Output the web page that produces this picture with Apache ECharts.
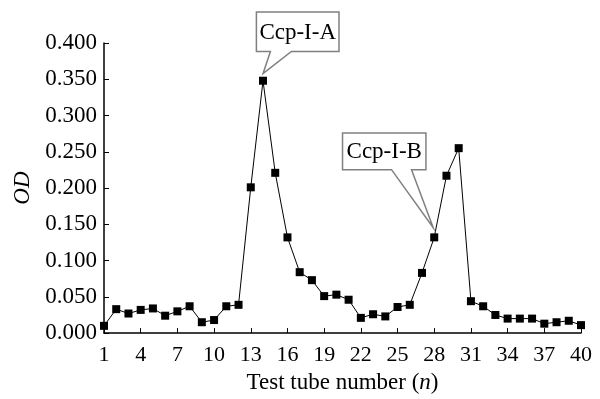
<!DOCTYPE html>
<html><head><meta charset="utf-8">
<script src="https://cdn.jsdelivr.net/npm/echarts@6/dist/echarts.min.js"></script>
<style>html,body{margin:0;padding:0;background:#fff}#c{width:600px;height:399px}</style>
</head><body><div id="c"></div>
<script>
const tubes = Array.from({length:40},(_,i)=>String(i+1));
const odValues = [0.010,0.033,0.027,0.032,0.034,0.024,0.030,0.037,0.015,0.018,
  0.037,0.039,0.201,0.348,0.221,0.132,0.084,0.073,0.051,0.053,
  0.046,0.021,0.026,0.023,0.036,0.039,0.083,0.132,0.217,0.255,
  0.044,0.037,0.025,0.020,0.020,0.020,0.013,0.015,0.017,0.011];
const yTicks = {min:0, max:0.4, interval:0.05};
const annotations = [{label:'Ccp-I-A', index:13}, {label:'Ccp-I-B', index:27}];

const font = 'Liberation Serif';
const chart = echarts.init(document.getElementById('c'), null, {renderer:'canvas'});
chart.setOption({
  backgroundColor:'#fff',
  animation:false,
  grid:{left:104, right:19, top:43, bottom:57},
  xAxis:{type:'category', data:tubes, boundaryGap:false,
    name:'Test tube number ({i|n})', nameLocation:'middle', nameGap:34,
    nameTextStyle:{fontFamily:font, fontSize:23, color:'#000', rich:{i:{fontFamily:font, fontStyle:'italic', fontSize:23, color:'#000'}}},
    axisLine:{lineStyle:{color:'#000', width:1.5}},
    axisTick:{inside:true, length:5, interval:2, lineStyle:{color:'#000'}},
    axisLabel:{interval:2, fontFamily:font, fontSize:22, color:'#000', margin:11},
    splitLine:{show:false}},
  yAxis:{type:'value', min:yTicks.min, max:yTicks.max, interval:yTicks.interval,
    name:'OD', nameLocation:'middle', nameGap:64,
    nameTextStyle:{fontFamily:font, fontStyle:'italic', fontSize:23, color:'#000'},
    axisLine:{show:true, lineStyle:{color:'#000', width:1.5}},
    axisTick:{show:true, inside:true, length:5, lineStyle:{color:'#000'}},
    axisLabel:{fontFamily:font, fontSize:23, color:'#000', margin:7, formatter:v=>v.toFixed(3)},
    splitLine:{show:false}},
  series:[{type:'line', data:odValues, symbol:'rect', symbolSize:8, showAllSymbol:true,
    itemStyle:{color:'#000'}, lineStyle:{color:'#000', width:1}, z:3}]
});

// callouts anchored to data points
const shapes = [
  {dx:0, dy:-7, box:[-6.6,76,-61.7,-22.3], base:[7.4,28.4]},
  {dx:-1, dy:-9.7, box:[-90.7,-7.3,-94.6,-58], base:[-41.7,-21.7]}
];
const graphics = [];
annotations.forEach((a,k)=>{
  const p = chart.convertToPixel({seriesIndex:0}, [a.index, odValues[a.index]]);
  const s = shapes[k];
  const tx = p[0]+s.dx, ty = p[1]+s.dy;
  const [l,r,t,b] = s.box.map((v,i)=> i<2 ? tx+v : ty+v);
  const pts = [[l,t],[r,t],[r,b],[tx+s.base[1],b],[tx,ty],[tx+s.base[0],b],[l,b]];
  graphics.push({type:'polygon', shape:{points:pts}, style:{fill:'#fff', stroke:'#808080', lineWidth:1.5}, z:10});
  graphics.push({type:'text', x:(l+r)/2, y:(t+b)/2+1, style:{text:a.label, font:'23px "'+font+'"', fill:'#000', textAlign:'center', textVerticalAlign:'middle'}, z:11});
});
chart.setOption({graphic:graphics});
</script></body></html>
